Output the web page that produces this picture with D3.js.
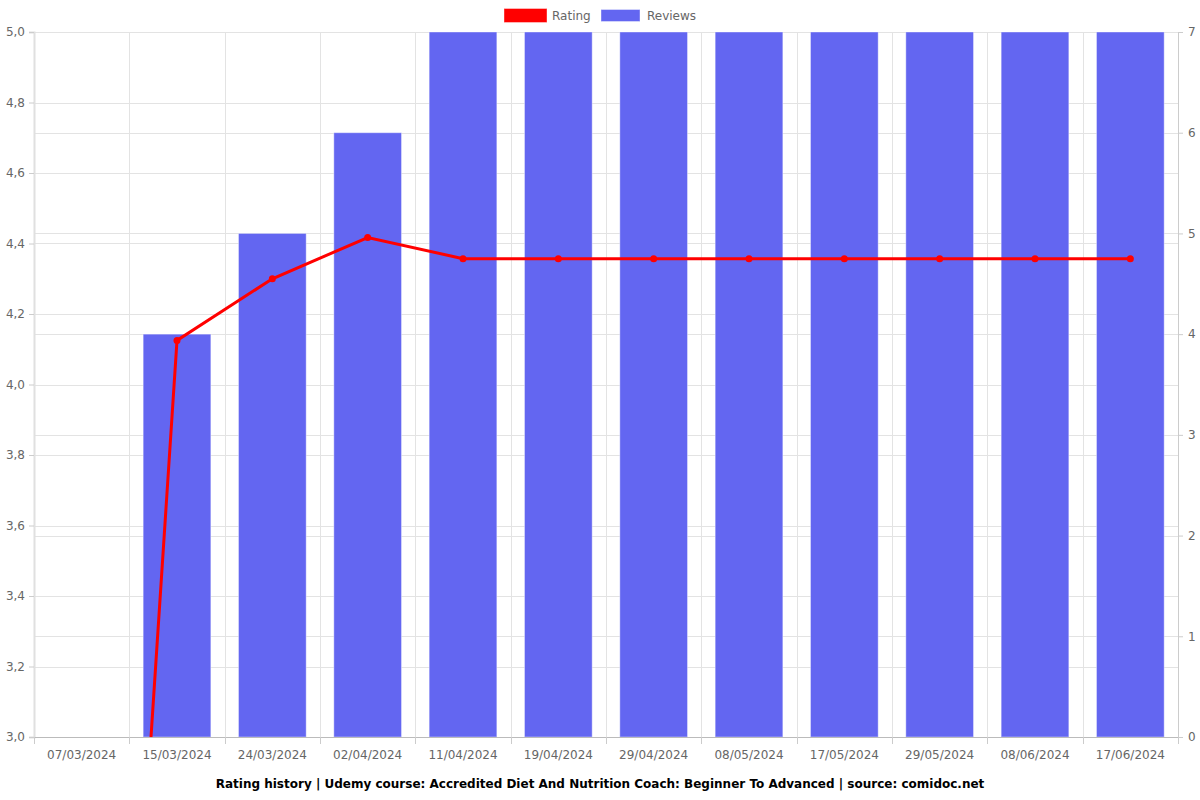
<!DOCTYPE html>
<html><head><meta charset="utf-8">
<script src="https://cdn.jsdelivr.net/npm/d3@7"></script>
<style>body{margin:0;background:#fff;font-family:"DejaVu Sans",sans-serif}</style>
</head><body><svg id="c" width="1200" height="800"></svg>
<script>
const categories = ["07/03/2024","15/03/2024","24/03/2024","02/04/2024","11/04/2024","19/04/2024","29/04/2024","08/05/2024","17/05/2024","29/05/2024","08/06/2024","17/06/2024"];
const ratingValues = [0, 4.125, 4.3, 4.417, 4.357, 4.357, 4.357, 4.357, 4.357, 4.357, 4.357, 4.357];
const reviewValues = [0, 4, 5, 6, 7, 7, 7, 7, 7, 7, 7, 7];
const leftTicks = [3.0,3.2,3.4,3.6,3.8,4.0,4.2,4.4,4.6,4.8,5.0];
const rightTicks = [0,1,2,3,4,5,6,7];
const title = "Rating history | Udemy course: Accredited Diet And Nutrition Coach: Beginner To Advanced | source: comidoc.net";

const svg = d3.select("#c");
const L=34, R=1178, T=32, B=737;
const x = d3.scaleBand().domain(categories).range([L,R]).paddingInner(0.29).paddingOuter(0.145);
const xb = d3.scaleBand().domain(categories).range([L,R]);
const yL = d3.scaleLinear().domain([3,5]).range([B,T]);
const yR = d3.scaleLinear().domain([0,7]).range([B,T]);
const grid = "#e3e3e3";

// grid
const g = svg.append("g");
g.selectAll("line.hl").data(leftTicks).join("line").attr("x1",L).attr("x2",R)
  .attr("y1",d=>Math.round(yL(d))+0.5).attr("y2",d=>Math.round(yL(d))+0.5).attr("stroke",grid);
g.selectAll("line.hr").data(rightTicks).join("line").attr("x1",L).attr("x2",R)
  .attr("y1",d=>Math.round(yR(d))+0.5).attr("y2",d=>Math.round(yR(d))+0.5).attr("stroke",grid);
g.selectAll("line.v").data(categories.slice(1).concat(["end"])).join("line")
  .attr("x1",(d,i)=>Math.round(L+xb.step()*(i+1))+0.5).attr("x2",(d,i)=>Math.round(L+xb.step()*(i+1))+0.5)
  .attr("y1",T).attr("y2",B+7).attr("stroke",grid);

// bars
svg.append("g").selectAll("rect").data(reviewValues).join("rect")
  .attr("x",(d,i)=>x(categories[i])).attr("width",x.bandwidth())
  .attr("y",d=>yR(d)).attr("height",d=>B-yR(d))
  .attr("fill","#6366f1").attr("stroke","rgba(255,255,255,0.4)").attr("stroke-width",1);

// axes
const axL = svg.append("g").attr("transform",`translate(${L},0)`)
  .call(d3.axisLeft(yL).tickValues(leftTicks).tickSize(5).tickPadding(4).tickFormat(d=>d3.format(".1f")(d).replace(".",",")));
const axR = svg.append("g").attr("transform",`translate(${R},0)`)
  .call(d3.axisRight(yR).tickValues(rightTicks).tickSize(5).tickPadding(5).tickFormat(d3.format("d")));
const axB = svg.append("g").attr("transform",`translate(0,${B})`)
  .call(d3.axisBottom(xb).tickSize(0).tickPadding(13));
[axL,axR,axB].forEach(a=>{
  a.selectAll("text").attr("fill","#666").attr("font-size",12).attr("font-family","DejaVu Sans");
  a.selectAll("line").attr("stroke","#ccc");
  a.select(".domain").attr("stroke","#ccc");
});
axL.select(".domain").attr("stroke","#e0e0e0").attr("stroke-width",2);
axB.select(".domain").attr("d",`M${L},0.5H${R}`).attr("stroke","#bbb");
axR.select(".domain").attr("d",`M0.5,${T}V${B}`).attr("stroke","#ccc");
// bottom tick marks at boundaries
svg.append("g").selectAll("line").data(d3.range(categories.length+1)).join("line")
  .attr("x1",i=>Math.round(L+xb.step()*i)+0.5).attr("x2",i=>Math.round(L+xb.step()*i)+0.5)
  .attr("y1",B).attr("y2",B+7).attr("stroke","#ccc");

// line
svg.append("clipPath").attr("id","clip").append("rect").attr("x",L).attr("y",T-5).attr("width",R-L).attr("height",B-T+5);
const cx = i=>xb(categories[i])+xb.bandwidth()/2;
const lg = svg.append("g").attr("clip-path","url(#clip)");
lg.append("path").datum(ratingValues)
  .attr("d",d3.line().x((d,i)=>cx(i)).y(d=>yL(d)))
  .attr("fill","none").attr("stroke","#ff0000").attr("stroke-width",3);
lg.selectAll("circle").data(ratingValues).join("circle")
  .attr("cx",(d,i)=>cx(i)).attr("cy",d=>yL(d)).attr("r",3.5).attr("fill","#ff0000");

// legend
const leg = svg.append("g");
leg.append("rect").attr("x",504).attr("y",8.5).attr("width",43).attr("height",14).attr("fill","#ff0000").attr("stroke","rgba(255,255,255,0.4)");
leg.append("text").attr("x",552).attr("y",20).text("Rating").attr("font-size",12).attr("fill","#666");
leg.append("rect").attr("x",601).attr("y",9.5).attr("width",39).attr("height",12).attr("fill","#6366f1").attr("stroke","rgba(255,255,255,0.4)");
leg.append("text").attr("x",647).attr("y",20).text("Reviews").attr("font-size",12).attr("fill","#666");

svg.append("text").attr("x",(L+R)/2+ -6).attr("y",788).attr("text-anchor","middle")
  .attr("font-size",12).attr("font-weight","bold").attr("fill","#000").text(title);
</script></body></html>
